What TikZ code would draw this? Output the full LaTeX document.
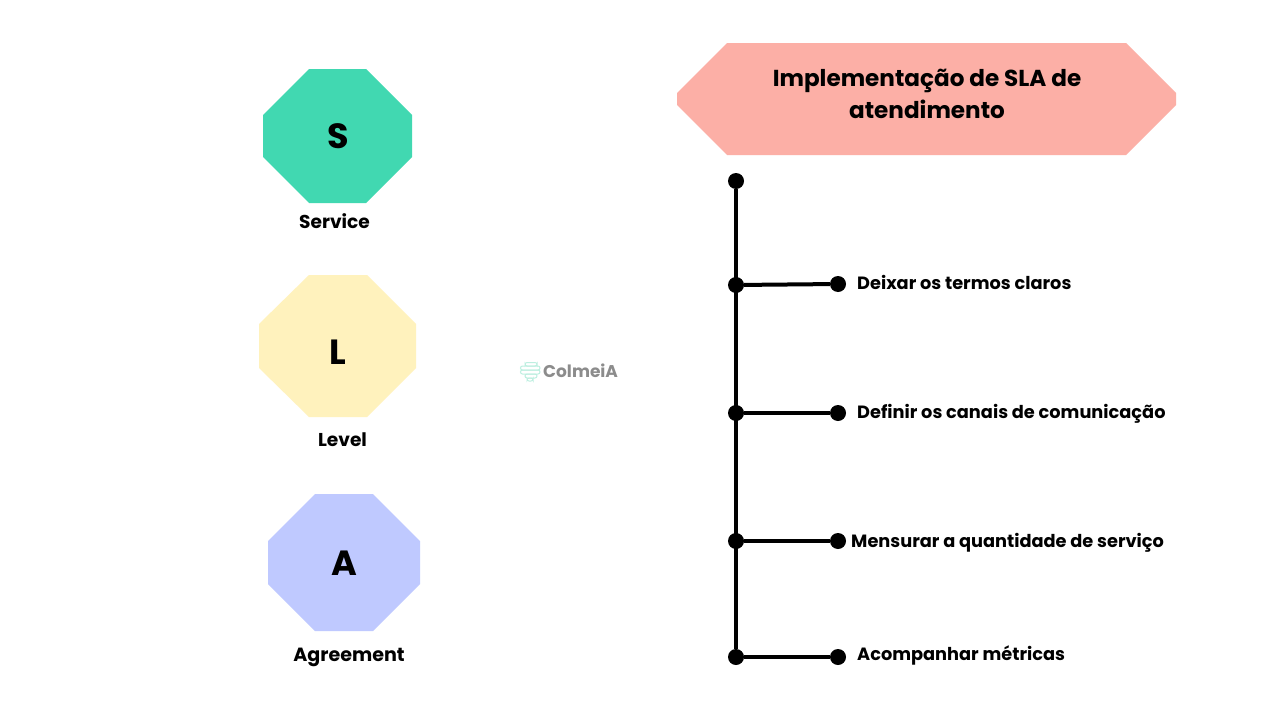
\documentclass[tikz,border=0pt]{standalone}
\usepackage{fontspec}
\setmainfont{Poppins}
\usepackage{xcolor}
\usetikzlibrary{positioning}
\definecolor{sgreen}{HTML}{41D8B1}
\definecolor{lyellow}{HTML}{FFF2BD}
\definecolor{ablue}{HTML}{BFC9FF}
\definecolor{titlered}{HTML}{FCAFA6}
\definecolor{hivegreen}{HTML}{BDEFE0}
\tikzset{
    letter/.style={font=\bfseries\fontsize{35}{35}\selectfont},
    word/.style={font=\bfseries\fontsize{18.6}{22}\selectfont},
    item/.style={font=\bfseries\fontsize{17.75}{21}\selectfont, anchor=west, inner sep=0pt},
    dot/.style={circle, fill=black, inner sep=0pt, minimum size=16pt},
    bar/.style={black, line width=4pt},
    hive/.style={hivegreen, line width=1pt, rounded corners=2pt}
}
\begin{document}
\begin{tikzpicture}[x=1pt,y=-1pt]
    \useasboundingbox (0,0) rectangle (1280,720);
    \fill[white] (0,0) rectangle (1280,720);
    % octagons
    \fill[sgreen] (309,69) -- (366,69) -- (412,115) -- (412,157) -- (366,203) -- (309,203) -- (263,157) -- (263,115) -- cycle;
    \fill[lyellow] (309,275) -- (367,275) -- (416,324) -- (416,368) -- (367,417) -- (309,417) -- (259,368) -- (259,324) -- cycle;
    \fill[ablue] (315,494) -- (373,494) -- (420,541) -- (420,584) -- (373,631) -- (315,631) -- (268,584) -- (268,541) -- cycle;
    \node[letter] (s) at (338,136) {S};
    \node[letter] (l) at (338,352) {L};
    \node[letter] (a) at (344,563) {A};
    \node[word] (service) at (334.5,221) {Service};
    \node[word] (level) at (342.5,440) {Level};
    \node[font=\bfseries\fontsize{19.1}{22}\selectfont] (agreement) at (349,657) {Agreement};
    % title
    \fill[titlered] (727,43) -- (1126,43) -- (1176,93) -- (1176,105) -- (1126,155) -- (727,155) -- (677,105) -- (677,93) -- cycle;
    \node[font=\bfseries\fontsize{23.1}{32}\selectfont, align=center] (title) at (927,93.5) {Implementação de SLA de\\atendimento};
    % watermark
    \draw[hive] (525,362.5) rectangle (537,366);
    \draw[hive] (520.5,366) rectangle (540,370);
    \draw[hive] (520.5,370) rectangle (540,374);
    \draw[hive] (525,374) rectangle (537,378);
    \draw[hive] (527,378) rectangle (533,381);
    \node[font=\bfseries\fontsize{17}{20}\selectfont, text=black!45, anchor=west, inner sep=0pt] (colmeia) at (543,371) {ColmeiA};
    % dots
    \node[dot] (top) at (736,181) {};
    \node[dot] (d1) at (736,285) {};
    \node[dot] (d2) at (736,413) {};
    \node[dot] (d3) at (736,541) {};
    \node[dot] (d4) at (736,657) {};
    \node[dot] (e1) at (838,284) {};
    \node[dot] (e2) at (838,413) {};
    \node[dot] (e3) at (838,541) {};
    \node[dot] (e4) at (838,657) {};
    % lines
    \draw[bar] (top) -- (d4);
    \draw[bar] (d1) -- (e1);
    \draw[bar] (d2) -- (e2);
    \draw[bar] (d3) -- (e3);
    \draw[bar] (d4) -- (e4);
    % items
    \node[item] (t1) at (857,282) {Deixar os termos claros};
    \node[item] (t2) at (857,414) {Definir os canais de comunicação};
    \node[item] (t3) at (851,543) {Mensurar a quantidade de serviço};
    \node[item] (t4) at (857,655) {Acompanhar métricas};
\end{tikzpicture}
\end{document}
